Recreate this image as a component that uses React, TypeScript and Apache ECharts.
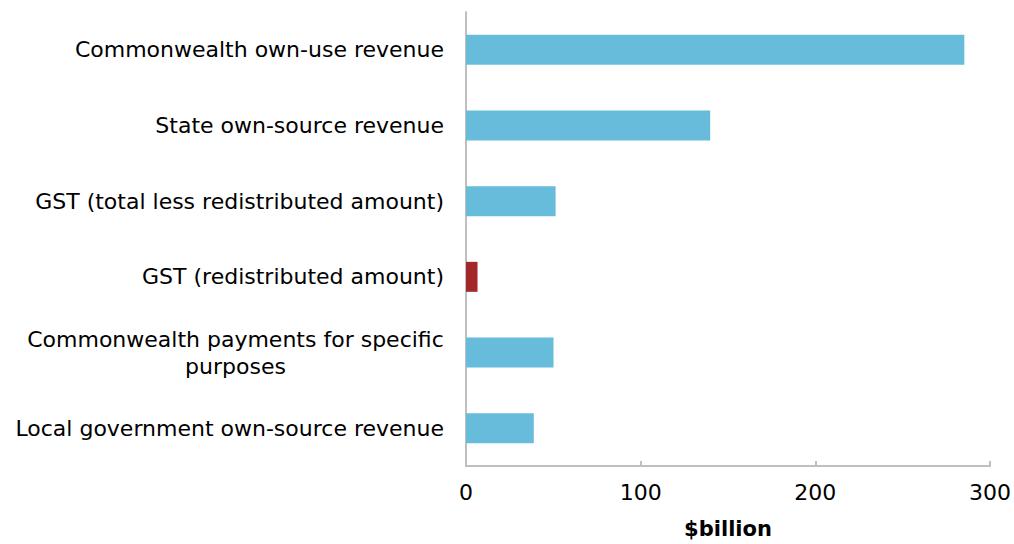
import React, { useEffect, useRef } from "react";
import * as echarts from "echarts";

const categories: string[] = [
  "Commonwealth own-use revenue",
  "State own-source revenue",
  "GST (total less redistributed amount)",
  "GST (redistributed amount)",
  "Commonwealth payments for specific\npurposes",
  "Local government own-source revenue",
];
const values: number[] = [285.3, 139.8, 51.3, 6.6, 50.1, 38.8];
const highlighted: boolean[] = [false, false, false, true, false, false];
const xTicks = { min: 0, max: 300, interval: 100 };
const xAxisName = "$billion";

const BLUE = "#67BCDB";
const RED = "#A4282A";
const AXIS = "#BFBFBF";
const FONT = "DejaVu Sans";
const FS = 22;

function measure(text: string): number {
  const c = document.createElement("canvas").getContext("2d");
  if (!c) return text.length * FS * 0.55;
  c.font = `${FS}px '${FONT}'`;
  return c.measureText(text).width;
}

export default function App() {
  const ref = useRef<HTMLDivElement>(null);
  useEffect(() => {
    if (!ref.current) return;
    const chart = echarts.init(ref.current, undefined, { renderer: "svg" });
    const rich: Record<string, any> = {};
    const keyFor: Record<string, string> = {};
    categories.forEach((v) => {
      if (v.indexOf("\n") >= 0) {
        const lines = v.split("\n");
        const w = Math.ceil(Math.max(...lines.map(measure)));
        const key = "c" + w;
        keyFor[v] = key;
        rich[key] = {
          width: w,
          align: "center",
          fontFamily: FONT,
          fontSize: FS,
          color: "#000",
          lineHeight: 27,
        };
      }
    });
    chart.setOption({
      animation: false,
      grid: { left: 466, width: 525, top: 12, height: 459, containLabel: false },
      xAxis: {
        type: "value",
        min: xTicks.min,
        max: xTicks.max,
        interval: xTicks.interval,
        name: xAxisName,
        nameLocation: "middle",
        nameGap: 52,
        nameTextStyle: { fontFamily: FONT, fontSize: 21, fontWeight: "bold", color: "#000" },
        axisLine: { show: true, lineStyle: { color: AXIS, width: 2 } },
        axisTick: { show: true, inside: true, length: 5, lineStyle: { color: AXIS, width: 2 } },
        splitLine: { show: false },
        axisLabel: { fontFamily: FONT, fontSize: FS, color: "#000", margin: 15 },
      },
      yAxis: {
        type: "category",
        inverse: true,
        data: categories,
        axisLine: { show: true, lineStyle: { color: AXIS, width: 2 } },
        axisTick: { show: false },
        axisLabel: {
          fontFamily: FONT,
          fontSize: FS,
          color: "#000",
          margin: 22,
          lineHeight: 27,
          formatter: (v: string) => {
            const key = keyFor[v];
            if (!key) return v;
            return v
              .split("\n")
              .map((l) => `{${key}|${l}}`)
              .join("\n");
          },
          rich,
        },
      },
      series: [
        {
          type: "bar",
          barWidth: 30,
          data: values.map((v, i) => ({
            value: v,
            itemStyle: { color: highlighted[i] ? RED : BLUE },
          })),
        },
      ],
    });
    return () => chart.dispose();
  }, []);
  return (
    <div
      ref={ref}
      style={{ position: "fixed", left: 0, top: 0, width: 1014, height: 544, background: "#fff" }}
    />
  );
}
